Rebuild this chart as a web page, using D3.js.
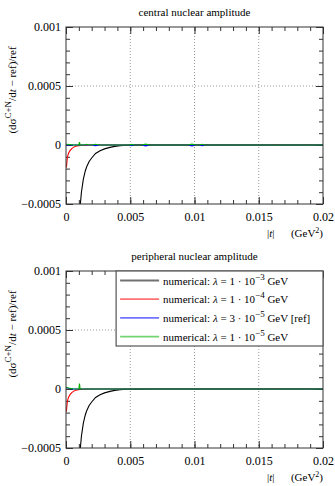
<!DOCTYPE html>
<meta charset="utf-8">
<script src="https://d3js.org/d3.v7.min.js"></script>
<style>
  body { margin: 0; background: #fff; }
  text { font-family: "Liberation Serif", "DejaVu Serif", serif; font-size: 11px; fill: #000; }
  .tick text { font-size: 12px; }
</style>
<div id="chart"></div>
<script>
    // tick values and labels
    const xTicks = [0, 0.005, 0.01, 0.015, 0.02];
    const xTickLabels = ["0", "0.005", "0.01", "0.015", "0.02"];
    const yTicks = [-0.0005, 0, 0.0005, 0.001];
    const yTickLabels = ["\u22120.0005", "0", "0.0005", "0.001"];

    // lambda = 1e-3 GeV (same in both panels)
    const blackT = [0.00100, 0.00110, 0.00120, 0.00135, 0.00150, 0.00161, 0.00180, 0.00200, 0.00230, 0.00265, 0.00300, 0.00342, 0.00380, 0.00420, 0.00480, 0.00550, 0.00700, 0.01000, 0.02000];
    const blackV = [-0.00070, -0.00052, -0.00040, -0.00029, -0.00022, -0.000184, -0.00014, -0.00011, -0.000072, -0.000048, -0.000033, -0.00002, -0.000012, -0.000006, -0.000002, -0.000001, 0, 0, 0];

    // lambda = 1e-4 GeV
    const redT = [0.00003, 0.00005, 0.00010, 0.00015, 0.00020, 0.00031, 0.00045, 0.00057, 0.00075, 0.00096, 0.00130, 0.00200, 0.01600, 0.01640, 0.01680, 0.01840, 0.01870, 0.01900, 0.02000];
    const redV = [-0.00019, -0.00017, -0.00011, -0.000085, -0.00007, -0.000048, -0.00003, -0.00002, -0.00001, -0.000005, -0.000002, 0, 0, 0.000004, 0, 0, 0.000004, 0, 0];

    // lambda = 3e-5 GeV [ref], central
    const blueT1 = [0, 0.0005, 0.0010, 0.0020, 0.0023, 0.0026, 0.0049, 0.0051, 0.0053, 0.0059, 0.0062, 0.0065, 0.0095, 0.0098, 0.0101, 0.0104, 0.0106, 0.0108, 0.0200];
    const blueV1 = [0, 0, 0, 0, -0.000005, 0, 0, -0.000005, 0, 0, -0.000007, 0, 0, -0.000007, 0, 0, -0.000006, 0, 0];
    // lambda = 1e-5 GeV, central
    const greenT1 = [0, 0.0003, 0.0006, 0.0010, 0.00105, 0.0011, 0.0014, 0.0016, 0.0018, 0.0020, 0.0023, 0.0026, 0.0049, 0.0051, 0.0053, 0.0059, 0.0062, 0.0065, 0.0095, 0.0098, 0.0101, 0.0104, 0.0106, 0.0108, 0.0200];
    const greenV1 = [0.000006, 0.000004, 0, 0, 0.000025, 0, 0, 0.000006, 0, 0, 0.000006, 0, 0, 0.000005, 0, 0, 0.000007, 0, 0, 0.000007, 0, 0, 0.000006, 0, 0];

    // peripheral
    const blueT2 = [0, 0.0002, 0.0005, 0.0010, 0.0200];
    const blueV2 = [0.000012, 0.000006, 0.000001, 0, 0];
    const greenT2 = [0, 0.0002, 0.0005, 0.0010, 0.00105, 0.0011, 0.0015, 0.0200];
    const greenV2 = [0.000015, 0.000008, 0.000002, 0, 0.000045, 0, 0, 0];

    const colors = ["#000000", "#ff0000", "#0000ff", "#00b400"];
    const legendLabels = [
        ["1", "\u22123", ""],
        ["1", "\u22124", ""],
        ["3", "\u22125", " [ref]"],
        ["1", "\u22125", ""]
    ];

    const zip = (t, v) => t.map((d, i) => ({t: d, v: v[i]}));

    const panels = [
        {title: "central nuclear amplitude", top: 27,
         series: [zip(blackT, blackV), zip(redT, redV), zip(blueT1, blueV1), zip(greenT1, greenV1)], legend: false},
        {title: "peripheral nuclear amplitude", top: 271,
         series: [zip(blackT, blackV), zip(redT, redV), zip(blueT2, blueV2), zip(greenT2, greenV2)], legend: true}
    ];

    const margin = {left: 66, right: 12};
    const width = 335 - margin.left - margin.right,
        height = 177;

    const svg = d3.select("#chart")
        .append("svg")
        .attr("width", 335)
        .attr("height", 486);

    const x = d3.scaleLinear().domain([0, 0.02]).range([0, width]);
    const y = d3.scaleLinear().domain([-0.0005, 0.001]).range([height, 0]);

    panels.forEach(function(p, pi) {
        const g = svg.append("g").attr("transform", `translate(${margin.left}, ${p.top})`);

        // clip
        g.append("clipPath").attr("id", "clip" + pi)
            .append("rect").attr("width", width).attr("height", height);

        // dotted grid
        g.append("g").selectAll("line")
            .data(xTicks.slice(1, -1))
            .join("line")
            .attr("x1", d => x(d)).attr("x2", d => x(d))
            .attr("y1", 0).attr("y2", height)
            .attr("stroke", "#999").attr("stroke-dasharray", "1,2");
        g.append("g").selectAll("line")
            .data(yTicks.slice(1, -1))
            .join("line")
            .attr("x1", 0).attr("x2", width)
            .attr("y1", d => y(d)).attr("y2", d => y(d))
            .attr("stroke", "#999").attr("stroke-dasharray", "1,2");

        // minor ticks, all sides, inward
        const xMinor = d3.range(0, 21).map(i => i * 0.001);
        const yMinor = d3.range(-5, 11).map(i => i * 0.0001);
        const minor = [
            [d3.axisBottom(x).tickValues(xMinor), `translate(0, ${height})`],
            [d3.axisTop(x).tickValues(xMinor), null],
            [d3.axisLeft(y).tickValues(yMinor), null],
            [d3.axisRight(y).tickValues(yMinor), `translate(${width}, 0)`]
        ];
        minor.forEach(function(m) {
            const a = g.append("g")
                .call(m[0].tickSize(-4).tickFormat(""));
            if (m[1]) a.attr("transform", m[1]);
            a.select(".domain").remove();
            a.selectAll("line").attr("stroke", "#333");
        });

        // major ticks with labels
        const xAxis = g.append("g")
            .attr("transform", `translate(0, ${height})`)
            .call(d3.axisBottom(x).tickValues(xTicks).tickSize(-7).tickPadding(8)
                .tickFormat((d, i) => xTickLabels[i]));
        const yAxis = g.append("g")
            .call(d3.axisLeft(y).tickValues(yTicks).tickSize(-7).tickPadding(5)
                .tickFormat((d, i) => yTickLabels[i]));
        const xTop = g.append("g")
            .call(d3.axisTop(x).tickValues(xTicks).tickSize(-7).tickFormat(""));
        const yRight = g.append("g")
            .attr("transform", `translate(${width}, 0)`)
            .call(d3.axisRight(y).tickValues(yTicks).tickSize(-7).tickFormat(""));
        [xAxis, yAxis, xTop, yRight].forEach(function(a) {
            a.select(".domain").remove();
            a.selectAll("line").attr("stroke", "#333");
            a.selectAll("text").attr("font-family", null).attr("font-size", null);
        });

        // curves
        const line = d3.line().x(d => x(d.t)).y(d => y(d.v));
        g.append("g").attr("clip-path", `url(#clip${pi})`)
            .selectAll("path")
            .data(p.series)
            .join("path")
            .attr("d", line)
            .attr("fill", "none")
            .attr("stroke", (d, i) => colors[i])
            .attr("stroke-width", 1.1);

        // frame
        g.append("rect")
            .attr("width", width).attr("height", height)
            .attr("fill", "none").attr("stroke", "#333").attr("stroke-width", 1);

        // title
        svg.append("text")
            .attr("x", margin.left + width / 2)
            .attr("y", p.top - 11)
            .attr("text-anchor", "middle")
            .text(p.title);

        // x label
        const xl = svg.append("text")
            .attr("x", margin.left + width)
            .attr("y", p.top + height + 33)
            .attr("text-anchor", "end")
            .attr("font-size", "11.5px");
        xl.append("tspan").text("|");
        xl.append("tspan").attr("font-style", "italic").text("t");
        xl.append("tspan").text("|\u2003\u2002(GeV");
        xl.append("tspan").attr("dy", -4).attr("font-size", "8px").text("2");
        xl.append("tspan").attr("dy", 4).text(")");

        // y label
        const yl = svg.append("text")
            .attr("transform", `translate(16, ${p.top + 63}) rotate(-90)`)
            .attr("text-anchor", "middle")
            .attr("font-size", "12.5px");
        yl.append("tspan").text("(d\u03c3");
        yl.append("tspan").attr("dy", -5).attr("font-size", "9px").text("C+N");
        yl.append("tspan").attr("dy", 5).text("/d");
        yl.append("tspan").attr("font-style", "italic").text("t");
        yl.append("tspan").text(" \u2212 ref)/ref");

        // legend
        if (p.legend) {
            const lx = x(0.0039);
            const lg = g.append("g").attr("transform", `translate(${lx}, 0)`);
            lg.append("rect")
                .attr("width", width - lx).attr("height", 75)
                .attr("fill", "#fff").attr("stroke", "#555").attr("stroke-width", 1.2);
            legendLabels.forEach(function(l, i) {
                const ly = 9.5 + i * 18.7;
                lg.append("line")
                    .attr("x1", 4).attr("x2", 43)
                    .attr("y1", ly).attr("y2", ly)
                    .attr("stroke", colors[i]).attr("stroke-width", 1.8)
                    .attr("opacity", 0.55);
                const t = lg.append("text").attr("x", 47).attr("y", ly + 4)
                    .attr("font-size", "12px");
                t.append("tspan").text("numerical: ");
                t.append("tspan").attr("font-style", "italic").text("\u03bb");
                t.append("tspan").text(` = ${l[0]} \u00b7 10`);
                t.append("tspan").attr("dy", -5).attr("font-size", "9px").text(l[1]);
                t.append("tspan").attr("dy", 5).text(" GeV" + l[2]);
            });
        }
    });
</script>
